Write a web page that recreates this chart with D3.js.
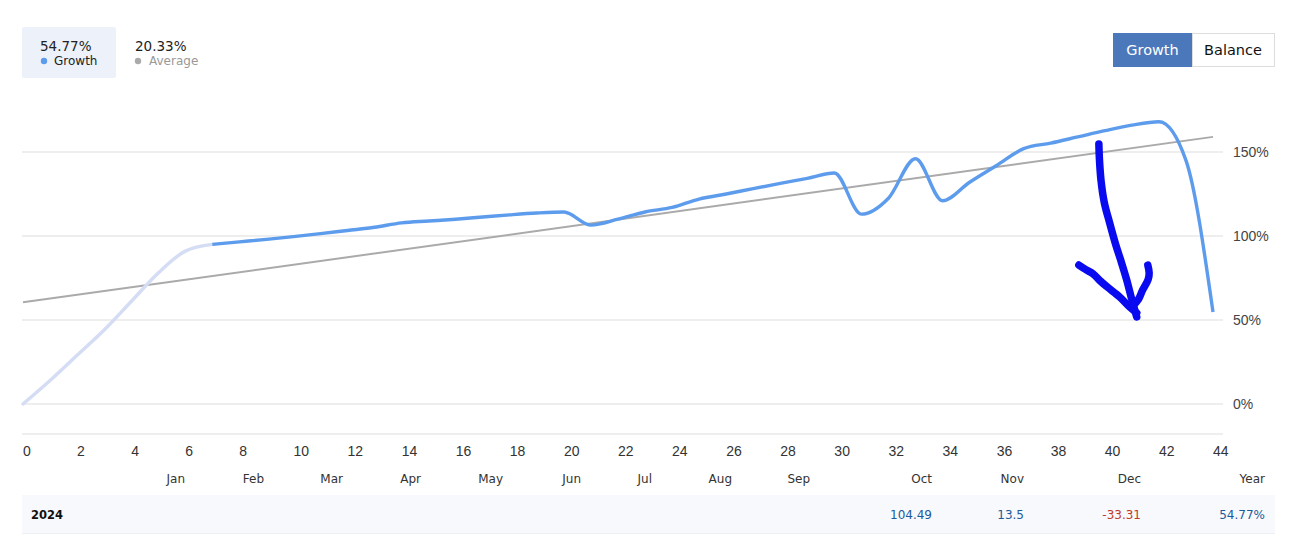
<!DOCTYPE html>
<html>
<head>
<meta charset="utf-8">
<script src="https://cdn.jsdelivr.net/npm/d3@7"></script>
<style>
  html, body { margin: 0; padding: 0; background: #ffffff; }
  svg { display: block; }
</style>
</head>
<body>
<svg id="chart" width="1290" height="540"></svg>
<script>
// ---------- DATA ----------
const growthValues = [0, 14, 29, 44, 61, 78, 91, 95,
  96.5, 98, 99.6, 101.4, 103.3, 105.2, 107.8, 108.9, 110, 111.3, 112.6, 113.7, 114.3,
  106.5, 110, 114.3, 117, 122, 125, 128.2, 131.3, 134.3, 137.5,
  113, 122.5, 146, 121, 132, 142, 152, 155.3, 159, 162.7, 166, 168, 145, 54.77];
const highlightStart = 7;           // index where the dark growth segment starts
const averageIdx = [0, 44];
const averageValues = [60.5, 159];
const xTicks = [0, 2, 4, 6, 8, 10, 12, 14, 16, 18, 20, 22, 24, 26, 28, 30, 32, 34, 36, 38, 40, 42, 44];
const yTicks = [0, 50, 100, 150];
const months = ["Jan", "Feb", "Mar", "Apr", "May", "Jun", "Jul", "Aug", "Sep", "Oct", "Nov", "Dec", "Year"];
const yearLabel = "2024";
const monthValues = [null, null, null, null, null, null, null, null, null, 104.49, 13.5, -33.31];
const yearTotal = "54.77%";
const legendGrowth = "54.77%";
const legendAverage = "20.33%";
// hand-drawn annotation (in data units: index, %)
const arrowShaft = [[39.78,154.8],[39.8,146],[39.86,133],[39.98,120],[40.18,107.7],[40.4,95],[40.6,85],[40.81,73.8],[41.0,62],[41.18,51.8]];
const arrowLeft = [[39.04,82.7],[39.3,80],[39.56,77.5],[39.85,73],[40.1,69.5],[40.55,63.7],[40.9,58],[41.18,54.2]];
const arrowRight = [[41.59,82.7],[41.64,78],[41.6,74],[41.4,67.9],[41.25,62.5],[41.1,59.5],[41.0,57.7]];

// ---------- LAYOUT ----------
const plot = { left: 23, right: 1213, gridLeft: 22, gridRight: 1223 };
const monthRightEdges = [185, 264, 343, 421, 503, 581, 652, 732, 810, 932, 1024, 1141, 1265];

const svg = d3.select("#chart");
const x = d3.scaleLinear().domain([0, 44]).range([plot.left, plot.right]);
const y = d3.scaleLinear().domain([0, 150]).range([404, 152]);

// gridlines
svg.append("g").selectAll("line").data(yTicks).join("line")
  .attr("x1", plot.gridLeft).attr("x2", plot.gridRight)
  .attr("y1", d => y(d)).attr("y2", d => y(d))
  .attr("stroke", "#e8e8e8").attr("stroke-width", 1.3);
svg.append("line").attr("x1", plot.gridLeft).attr("x2", plot.gridRight)
  .attr("y1", 434).attr("y2", 434).attr("stroke", "#eeeeee").attr("stroke-width", 2);

// y labels
svg.append("g").selectAll("text").data(yTicks).join("text")
  .attr("x", 1233).attr("y", d => y(d) + 5)
  .attr("font-family", "'Liberation Sans', Arial, sans-serif").attr("font-size", 14)
  .attr("fill", "#444").text(d => d + "%");

// x labels
svg.append("g").selectAll("text").data(xTicks).join("text")
  .attr("x", d => x(d)).attr("y", 456)
  .attr("font-family", "'Liberation Sans', Arial, sans-serif").attr("font-size", 14)
  .attr("fill", "#333").text(d => d);

// average line
svg.append("path")
  .datum(averageIdx.map((d, i) => [d, averageValues[i]]))
  .attr("d", d3.line().x(d => x(d[0])).y(d => y(d[1])))
  .attr("fill", "none").attr("stroke", "#aaaaaa").attr("stroke-width", 2);

// growth line
const pts = growthValues.map((v, i) => [i, v]);
const line = d3.line().x(d => x(d[0])).y(d => y(d[1])).curve(d3.curveMonotoneX);
svg.append("path").datum(pts.slice(0, highlightStart + 1))
  .attr("d", line).attr("fill", "none").attr("stroke", "#d5ddf5")
  .attr("stroke-width", 3.4).attr("stroke-linecap", "round");
svg.append("path").datum(pts.slice(highlightStart))
  .attr("d", line).attr("fill", "none").attr("stroke", "#5d9cec")
  .attr("stroke-width", 3.4).attr("stroke-linejoin", "round");

// annotation arrow
const annLine = d3.line().x(d => x(d[0])).y(d => y(d[1])).curve(d3.curveCatmullRom);
[arrowShaft, arrowLeft, arrowRight].forEach(s => {
  svg.append("path").datum(s).attr("d", annLine)
    .attr("fill", "none").attr("stroke", "#0a0af0").attr("stroke-width", 7.5)
    .attr("stroke-linecap", "round").attr("stroke-linejoin", "round");
});

// legend
const legend = svg.append("g").attr("font-family", "'DejaVu Sans', Verdana, sans-serif");
legend.append("rect").attr("x", 22).attr("y", 27).attr("width", 94).attr("height", 51)
  .attr("rx", 2).attr("fill", "#edf1f9");
legend.append("text").attr("x", 40).attr("y", 51).attr("font-size", 13.5).attr("fill", "#222").text(legendGrowth);
legend.append("circle").attr("cx", 44).attr("cy", 61).attr("r", 3.2).attr("fill", "#5d9cec");
legend.append("text").attr("x", 54).attr("y", 65).attr("font-size", 12).attr("fill", "#222").text("Growth");
legend.append("text").attr("x", 135).attr("y", 51).attr("font-size", 13.5).attr("fill", "#222").text(legendAverage);
legend.append("circle").attr("cx", 138).attr("cy", 61).attr("r", 3.2).attr("fill", "#aaaaaa");
legend.append("text").attr("x", 149).attr("y", 65).attr("font-size", 12).attr("fill", "#999").text("Average");

// buttons
const btn = svg.append("g").attr("font-family", "'DejaVu Sans', Verdana, sans-serif").attr("font-size", 14.5);
btn.append("rect").attr("x", 1192.5).attr("y", 33.5).attr("width", 82).attr("height", 33)
  .attr("fill", "#fff").attr("stroke", "#dddddd");
btn.append("rect").attr("x", 1113).attr("y", 33).attr("width", 79).attr("height", 34).attr("fill", "#4b78ba");
btn.append("text").attr("x", 1152.5).attr("y", 55).attr("text-anchor", "middle").attr("fill", "#fff").text("Growth");
btn.append("text").attr("x", 1233).attr("y", 55).attr("text-anchor", "middle").attr("fill", "#111").text("Balance");

// month header
svg.append("g").selectAll("text").data(months).join("text")
  .attr("x", (d, i) => monthRightEdges[i]).attr("y", 483).attr("text-anchor", "end")
  .attr("font-family", "'DejaVu Sans', Verdana, sans-serif").attr("font-size", 12)
  .attr("fill", "#333").text(d => d);

// table row
svg.append("rect").attr("x", 22).attr("y", 495).attr("width", 1253).attr("height", 38).attr("fill", "#f7f9fc");
svg.append("line").attr("x1", 22).attr("x2", 1275).attr("y1", 533.5).attr("y2", 533.5).attr("stroke", "#eceff4");
svg.append("text").attr("x", 31).attr("y", 519)
  .attr("font-family", "'DejaVu Sans', Verdana, sans-serif").attr("font-size", 11.5).attr("font-weight", "bold")
  .attr("fill", "#111").text(yearLabel);
svg.append("g").selectAll("text").data(monthValues.map((v, i) => ({ v, i })).filter(d => d.v !== null)).join("text")
  .attr("x", d => monthRightEdges[d.i]).attr("y", 519).attr("text-anchor", "end")
  .attr("font-family", "'DejaVu Sans', Verdana, sans-serif").attr("font-size", 12)
  .attr("fill", d => d.v < 0 ? "#c0392b" : "#1c5a9c").text(d => d.v);
svg.append("text").attr("x", monthRightEdges[12]).attr("y", 519).attr("text-anchor", "end")
  .attr("font-family", "'DejaVu Sans', Verdana, sans-serif").attr("font-size", 12)
  .attr("fill", "#1c5a9c").text(yearTotal);
</script>
</body>
</html>
